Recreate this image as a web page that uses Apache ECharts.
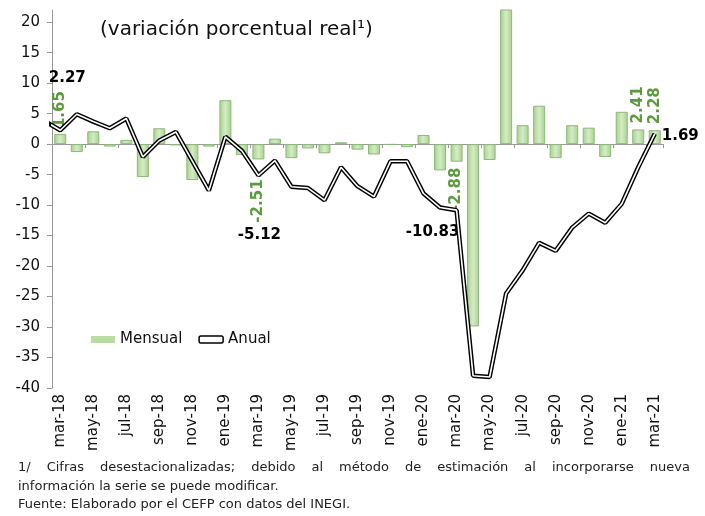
<!DOCTYPE html>
<html>
<head>
<meta charset="utf-8">
<script src="https://cdn.jsdelivr.net/npm/echarts@6/dist/echarts.min.js"></script>
<style>
  html, body { margin: 0; padding: 0; background: #fff; }
  #chart { width: 705px; height: 516px; }
</style>
</head>
<body>
<div id="chart"></div>
<script>
// feb-18 solo sirve para que la linea entre desde el eje (queda recortada)
var meses = ["feb-18", "mar-18", "abr-18", "may-18", "jun-18", "jul-18", "ago-18", "sep-18", "oct-18", "nov-18", "dic-18",
  "ene-19", "feb-19", "mar-19", "abr-19", "may-19", "jun-19", "jul-19", "ago-19", "sep-19", "oct-19", "nov-19", "dic-19",
  "ene-20", "feb-20", "mar-20", "abr-20", "may-20", "jun-20", "jul-20", "ago-20", "sep-20", "oct-20", "nov-20", "dic-20",
  "ene-21", "feb-21", "mar-21"];

var mensual = [null, 1.65, -1.3, 2.1, -0.4, 0.7, -5.4, 2.6, -0.2, -5.9, -0.4,
  7.2, -1.8, -2.51, 0.9, -2.3, -0.7, -1.5, 0.3, -0.9, -1.7, -0.1, -0.5,
  1.5, -4.3, -2.88, -29.9, -2.6, 23.0, 3.1, 6.3, -2.3, 3.1, 2.7, -2.1,
  5.3, 2.41, 2.28];

var anual = [3.9, 2.27, 4.9, 3.7, 2.6, 4.2, -2.1, 0.6, 2.0, -2.8, -7.6,
  1.2, -1.1, -5.12, -2.7, -7.0, -7.2, -9.2, -3.8, -6.9, -8.6, -2.8, -2.8,
  -8.1, -10.4, -10.83, -38.0, -38.2, -24.5, -20.7, -16.2, -17.5, -13.7, -11.4, -12.9,
  -9.8, -3.8, 1.69];

var yTicks = [-40, -35, -30, -25, -20, -15, -10, -5, 0, 5, 10, 15, 20];

// meses con etiqueta de dato
var etiquetasMensual = ["mar-18", "mar-19", "mar-20", "feb-21", "mar-21"];
var etiquetasAnual = ["mar-18", "mar-19", "mar-20", "mar-21"];

var verde = "#5b9b3b";
var fuente = "DejaVu Sans";

var barData = mensual.map(function (v, i) {
  var item = { value: v };
  if (etiquetasMensual.indexOf(meses[i]) >= 0) {
    var neg = v < 0;
    item.label = {
      show: true,
      position: neg ? "bottom" : "top",
      rotate: 90,
      align: neg ? "right" : "left",
      verticalAlign: "middle",
      distance: meses[i] == "mar-19" ? 20 : 6,
      color: verde,
      fontWeight: "bold",
      fontSize: 15,
      fontFamily: fuente
    };
  }
  return item;
});

var lineLabelPos = {
  "mar-18": { position: "top", distance: 45, offset: [7, 0] },
  "mar-19": { position: "bottom", distance: 52, offset: [1, 0] },
  "mar-20": { position: "bottom", distance: 14, offset: [-24, 0] },
  "mar-21": { position: "right", distance: 7, offset: [0, 2] }
};

var lineData = anual.map(function (v, i) {
  var item = { value: v };
  var p = lineLabelPos[meses[i]];
  if (p && etiquetasAnual.indexOf(meses[i]) >= 0) {
    item.label = {
      show: true,
      position: p.position,
      distance: p.distance,
      offset: p.offset,
      color: "#000",
      fontWeight: "bold",
      fontSize: 15,
      fontFamily: fuente
    };
  }
  return item;
});

function cadaDos(index) {
  return (index - 1) % 2 === 0;
}

// primer renglon de la nota justificado como en el original
function justificar(texto, x0, x1, y, font) {
  var ctx = document.createElement("canvas").getContext("2d");
  ctx.font = font;
  var words = texto.split(" ");
  var widths = words.map(function (w) { return ctx.measureText(w).width; });
  var total = widths.reduce(function (a, b) { return a + b; }, 0);
  var gap = (x1 - x0 - total) / (words.length - 1);
  var x = x0;
  var out = [];
  words.forEach(function (w, i) {
    out.push({ type: "text", x: x, y: y, style: { text: w, font: font, fill: "#222", verticalAlign: "middle" } });
    x += widths[i] + gap;
  });
  return out;
}

var fontNota = "13px " + fuente;
var graficos = [
  {
    type: "text", x: 100, y: 30,
    style: { text: "(variación porcentual real¹)", font: "20px " + fuente, fill: "#111", verticalAlign: "middle" }
  },
  { type: "text", x: 18, y: 487, style: { text: "información la serie se puede modificar.", font: fontNota, fill: "#222", verticalAlign: "middle" } },
  { type: "text", x: 18, y: 505, style: { text: "Fuente: Elaborado por el CEFP con datos del INEGI.", font: fontNota, fill: "#222", verticalAlign: "middle" } }
].concat(justificar("1/ Cifras desestacionalizadas; debido al método de estimación al incorporarse nueva", 18, 690, 468, fontNota));

var myChart = echarts.init(document.getElementById("chart"));
myChart.setOption({
  animation: false,
  textStyle: { fontFamily: fuente },
  grid: { left: 52, right: 42, top: 10, bottom: 128 },
  legend: {
    left: 86,
    top: 327,
    itemWidth: 24,
    itemHeight: 7,
    itemGap: 16,
    textStyle: { fontSize: 15, color: "#111", fontFamily: fuente },
    data: [
      { name: "Mensual", icon: "rect", itemStyle: { color: "#b9dca2", borderWidth: 0 } },
      { name: "Anual", icon: "roundRect", itemStyle: { color: "#fff", borderColor: "#000", borderWidth: 1.5 }, lineStyle: { width: 0 } }
    ]
  },
  xAxis: [
    {
      type: "category",
      data: meses,
      min: 1,
      boundaryGap: true,
      axisLine: { onZero: true, lineStyle: { color: "#999", width: 1 } },
      axisTick: { show: true, interval: cadaDos, length: 4, lineStyle: { color: "#999" } },
      axisLabel: { show: false },
      splitLine: { show: false }
    },
    {
      type: "category",
      data: meses,
      min: 1,
      position: "bottom",
      boundaryGap: true,
      axisLine: { show: false, onZero: false },
      axisTick: { show: false },
      axisLabel: {
        interval: cadaDos,
        rotate: 90,
        margin: 6,
        fontSize: 15,
        color: "#111",
        fontFamily: fuente
      },
      splitLine: { show: false }
    }
  ],
  yAxis: {
    type: "value",
    min: -40,
    max: 22,
    interval: 5,
    axisLine: { show: true, lineStyle: { color: "#999" } },
    axisTick: { show: true, length: 5, customValues: yTicks, lineStyle: { color: "#999" } },
    axisLabel: { fontSize: 15, color: "#111", margin: 12, customValues: yTicks, fontFamily: fuente },
    splitLine: { show: false }
  },
  series: [
    {
      name: "Mensual",
      type: "bar",
      barWidth: 12,
      data: barData,
      itemStyle: {
        color: new echarts.graphic.LinearGradient(0, 0, 1, 0, [
          { offset: 0, color: "#a6d18b" },
          { offset: 0.5, color: "#d4ecc5" },
          { offset: 1, color: "#a6d18b" }
        ]),
        borderColor: "#8cb97a",
        borderWidth: 1
      }
    },
    {
      name: "Anual",
      type: "line",
      data: lineData,
      symbol: "circle",
      symbolSize: 0,
      showSymbol: true,
      itemStyle: { color: "#000" },
      lineStyle: { color: "#000", width: 4.5 },
      z: 3
    },
    {
      name: "AnualInterior",
      type: "line",
      data: anual,
      symbol: "none",
      lineStyle: { color: "#fff", width: 1.6 },
      z: 4,
      silent: true
    }
  ],
  graphic: graficos
});
</script>
</body>
</html>
